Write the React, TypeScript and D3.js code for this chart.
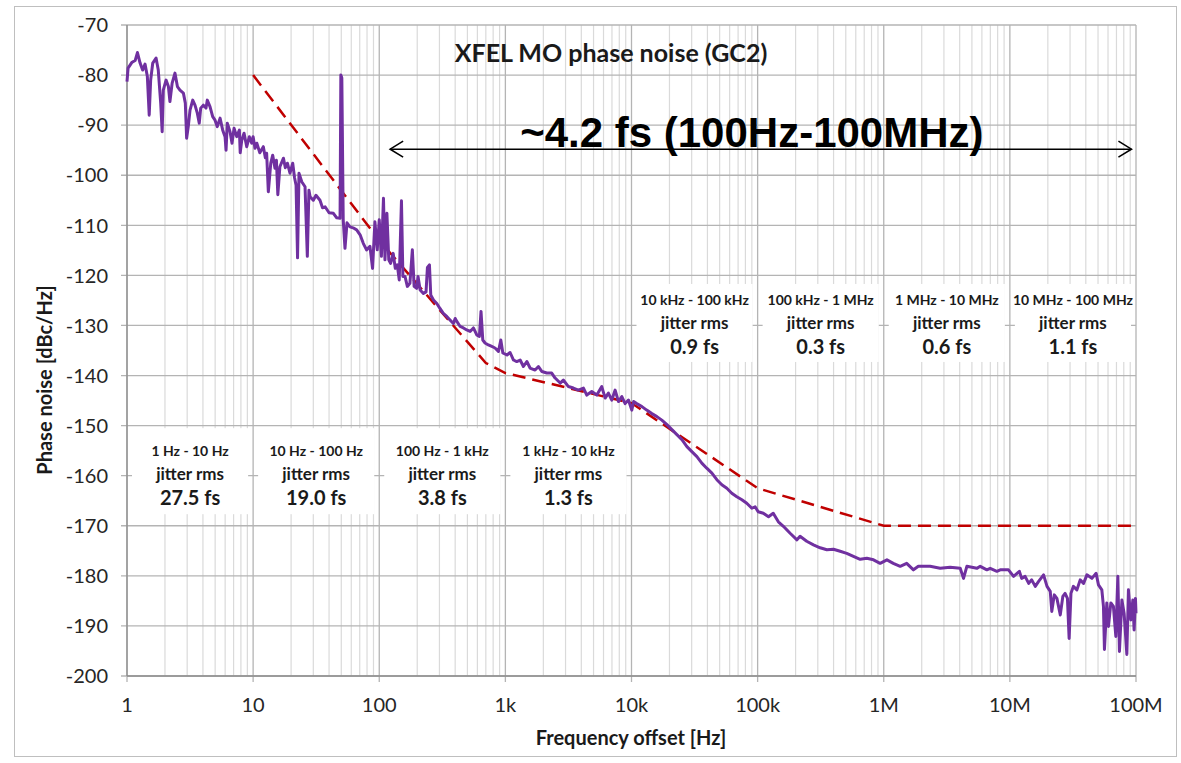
import React from "react";
import * as d3 from "d3";

// ---------- data ----------
const xTickValues = [1, 10, 100, 1e3, 1e4, 1e5, 1e6, 1e7, 1e8];
const xTickLabels = ["1", "10", "100", "1k", "10k", "100k", "1M", "10M", "100M"];
const yTickValues = [-70, -80, -90, -100, -110, -120, -130, -140, -150, -160, -170, -180, -190, -200];

// red dashed reference mask [Hz, dBc/Hz]
const maskFreq = [10, 100, 700, 1e3, 1e4, 1e5, 1e6, 1e8];
const maskLevel = [-80, -113, -137.5, -139.5, -145.5, -162.5, -170, -170];

// measured trace, decade by decade [Hz, dBc/Hz]
const traceDecade1: [number, number][] = [
  [1.0, -81.3], [1.02, -78.6], [1.09, -77.5], [1.16, -77.1], [1.21, -75.5], [1.27, -77.6], [1.33, -79.0],
  [1.39, -77.8], [1.45, -80.3], [1.5, -88.0], [1.54, -81.0], [1.6, -77.6], [1.7, -76.6], [1.77, -79.0],
  [1.85, -85.6], [1.9, -91.3], [1.94, -83.0], [2.04, -81.0], [2.13, -82.3], [2.19, -85.3], [2.28, -81.6],
  [2.4, -79.6], [2.51, -82.3], [2.63, -83.0], [2.8, -83.6], [2.9, -85.6], [2.97, -92.6], [3.06, -90.3],
  [3.16, -87.0], [3.32, -85.0], [3.46, -86.0], [3.61, -87.6], [3.74, -89.6], [3.84, -86.6], [4.03, -86.0],
  [4.23, -86.6], [4.33, -85.0], [4.55, -86.3], [4.78, -88.3], [4.99, -89.0], [5.2, -90.3], [5.47, -88.6],
  [5.74, -91.0], [5.99, -92.3], [6.1, -95.0], [6.24, -89.6], [6.56, -91.3], [6.8, -93.6], [7.06, -90.6],
  [7.41, -92.3], [7.78, -91.0], [7.9, -95.5], [8.13, -93.0], [8.47, -91.6], [8.9, -94.3], [9.33, -92.3],
  [9.75, -93.6],
];
const traceDecade2: [number, number][] = [
  [10.0, -92.3], [10.35, -94.6], [10.7, -93.6], [11.3, -95.5], [12.05, -94.3], [12.5, -96.5], [12.8, -95.6],
  [13.2, -103.3], [13.8, -97.6], [14.3, -96.0], [14.9, -98.6], [15.3, -97.0], [15.7, -103.9], [16.3, -98.3],
  [17.4, -96.6], [18.0, -98.5], [18.7, -97.6], [19.6, -99.6], [20.6, -97.6], [21.3, -100.5], [21.9, -102.0],
  [22.5, -116.5], [23.1, -99.6], [24.3, -101.3], [25.8, -102.3], [26.9, -116.2], [27.7, -103.0], [28.3, -104.3],
  [30.0, -105.0], [31.5, -104.0], [33.9, -105.0], [35.5, -106.5], [37.2, -106.3], [40.0, -107.5], [43.3, -107.6],
  [46.0, -108.5], [48.9, -108.6], [49.6, -80.0], [50.5, -80.6], [51.8, -108.9], [53.5, -114.6], [55.5, -109.5],
  [58.6, -110.3], [62.0, -110.5], [66.2, -110.9], [70.5, -111.9], [74.7, -113.6], [79.3, -114.9], [84.4, -114.2],
  [88.5, -118.6], [92.4, -109.3], [96.4, -114.9],
];
const traceDecade3: [number, number][] = [
  [100, -108.9], [104, -116.2], [108, -104.6], [111, -116.9], [115, -107.6], [119, -116.9], [123, -117.6],
  [129, -115.6], [134, -118.6], [139, -117.9], [144, -120.9], [150, -105.1], [154, -120.2], [160, -120.2],
  [167, -122.2], [175, -121.6], [183, -114.9], [189, -122.2], [198, -122.6], [203, -120.2], [211, -122.9],
  [224, -123.6], [235, -123.3], [241, -118.4], [250, -117.9], [256, -123.9], [269, -124.9], [286, -125.6],
  [303, -126.6], [322, -127.6], [343, -128.2], [364, -128.9], [387, -129.6], [400, -128.6], [412, -129.2],
  [438, -130.2], [465, -130.5], [494, -130.9], [525, -131.2], [558, -130.5], [593, -131.9], [622, -132.2],
  [641, -127.2], [662, -132.9], [690, -133.5], [733, -133.9], [780, -134.2], [828, -134.5], [881, -135.2],
  [920, -132.9], [955, -135.5],
];
const traceDecade4: [number, number][] = [
  [1030, -135.9], [1090, -135.4], [1160, -136.9], [1230, -137.2], [1310, -136.9], [1390, -138.2], [1480, -137.2],
  [1570, -138.5], [1720, -138.9], [1830, -138.2], [1950, -139.2], [2130, -139.5], [2330, -139.5], [2480, -140.5],
  [2720, -141.5], [2880, -140.9], [3160, -142.2], [3460, -142.5], [3790, -142.9], [4160, -142.5], [4420, -143.9],
  [4840, -143.2], [5310, -143.9], [5810, -142.2], [6180, -144.5], [6560, -143.5], [6980, -144.9], [7420, -142.9],
  [7880, -145.2], [8380, -144.2], [8900, -145.6], [9460, -144.9], [10050, -146.9],
];
const traceDecade5: [number, number][] = [
  [10400, -145.2], [11000, -145.6], [12100, -146.2], [13200, -146.9], [14500, -147.6], [15900, -148.2],
  [17400, -148.9], [19100, -149.8], [20900, -150.8], [22900, -151.8], [25100, -152.8], [27500, -154.2],
  [30100, -155.2], [33000, -156.2], [36100, -157.5], [39500, -158.5], [43400, -159.5], [47500, -160.8],
  [52000, -161.8], [57000, -162.5], [62400, -163.5], [68400, -164.2], [75000, -164.8], [82000, -165.5],
  [90000, -166.5], [95500, -166.2],
];
const traceDecade6: [number, number][] = [
  [101000, -167.2], [111000, -167.5], [122000, -168.2], [133000, -167.5], [146000, -169.2], [160000, -170.1],
  [181000, -171.5], [205000, -172.8], [217000, -172.1], [245000, -173.1], [277000, -173.8], [313000, -174.4],
  [354000, -174.8], [399000, -174.7], [451000, -175.1], [509000, -175.5], [575000, -176.1], [650000, -176.7],
  [734000, -176.5], [829000, -176.8], [936000, -177.5],
];
const traceDecade7: [number, number][] = [
  [1.06e6, -176.8], [1.19e6, -177.5], [1.35e6, -178.1], [1.52e6, -177.5], [1.72e6, -178.8], [1.88e6, -178.1],
  [2.33e6, -178.1], [2.8e6, -178.5], [3.36e6, -178.3], [4.04e6, -178.5], [4.29e6, -180.5], [4.56e6, -178.1],
  [5.47e6, -178.5], [5.82e6, -178.1], [6.57e6, -178.8], [6.98e6, -178.5], [7.89e6, -179.1], [8.38e6, -178.8],
  [9.75e6, -178.8],
];
const traceDecade8: [number, number][] = [
  [1.07e7, -180.1], [1.14e7, -179.5], [1.19e7, -179.1], [1.24e7, -180.5], [1.32e7, -180.1], [1.41e7, -181.5],
  [1.49e7, -180.8], [1.59e7, -182.1], [1.69e7, -181.1], [1.85e7, -179.8], [1.97e7, -182.1], [2.09e7, -183.1],
  [2.15e7, -187.1], [2.25e7, -183.8], [2.36e7, -184.5], [2.51e7, -187.8], [2.63e7, -184.1], [2.74e7, -183.5],
  [2.86e7, -184.5], [2.95e7, -192.5], [3.05e7, -183.5], [3.19e7, -182.1], [3.4e7, -182.8], [3.61e7, -180.8],
  [3.84e7, -181.5], [4.08e7, -179.8], [4.47e7, -180.5], [4.83e7, -179.5], [5.04e7, -181.8], [5.36e7, -182.8],
  [5.52e7, -186.1], [5.62e7, -194.7], [5.87e7, -185.4], [6.05e7, -190.1], [6.32e7, -185.4], [6.62e7, -186.1],
  [6.92e7, -192.1], [7.18e7, -180.1], [7.39e7, -195.1], [7.73e7, -184.8], [8.05e7, -187.5], [8.46e7, -195.7],
  [8.71e7, -182.8], [9.1e7, -188.8], [9.44e7, -184.8], [9.66e7, -190.8], [9.9e7, -184.5], [1e8, -187.5],
];

// integrated jitter per decade
const bandStart = [1, 10, 100, 1e3, 1e4, 1e5, 1e6, 1e7];
const bandRange = ["1 Hz - 10 Hz", "10 Hz - 100 Hz", "100 Hz - 1 kHz", "1 kHz - 10 kHz",
  "10 kHz - 100 kHz", "100 kHz - 1 MHz", "1 MHz - 10 MHz", "10 MHz - 100 MHz"];
const bandJitter = ["27.5 fs", "19.0 fs", "3.8 fs", "1.3 fs", "0.9 fs", "0.3 fs", "0.6 fs", "1.1 fs"];
const bandLevel = [-159.7, -159.7, -159.7, -159.7, -129.5, -129.5, -129.5, -129.5];

const chartTitle = "XFEL MO phase noise (GC2)";
const totalLabel = "~4.2 fs (100Hz-100MHz)";
const totalArrowFreq = [122, 9.2e7];
const totalArrowLevel = -94.8;
const totalLabelFreq = 9e4;
const xTitle = "Frequency offset [Hz]";
const yTitle = "Phase noise [dBc/Hz]";

const FONT = "Lato, 'Open Sans', sans-serif";

export default function App() {
  const W = 1181, H = 763;
  const x = d3.scaleLog().domain([1, 1e8]).range([127, 1136]);
  const y = d3.scaleLinear().domain([-200, -70]).range([676, 25]);

  const trace = [...traceDecade1, ...traceDecade2, ...traceDecade3, ...traceDecade4,
    ...traceDecade5, ...traceDecade6, ...traceDecade7, ...traceDecade8];
  const line = d3.line<[number, number]>().x((d) => x(d[0])).y((d) => y(d[1]));
  const mask: [number, number][] = maskFreq.map((f, i) => [f, maskLevel[i]]);

  const minor: number[] = [];
  for (let d = 1; d < 1e8; d *= 10) for (let k = 2; k <= 9; k++) minor.push(d * k);

  const [x0, x1] = x.range();
  const [yb, yt] = y.range();

  const ay = y(totalArrowLevel);
  const ax0 = x(totalArrowFreq[0]);
  const ax1 = x(totalArrowFreq[1]);

  return (
    <svg width={W} height={H} style={{ position: "absolute", left: 0, top: 0, background: "#fff" }}
      fontFamily={FONT}>
      <rect x={14.5} y={6.5} width={1162} height={750} fill="#fff" stroke="#bfbfbf" />
      {/* minor vertical grid */}
      {minor.map((m) => (
        <line key={"m" + m} x1={x(m)} x2={x(m)} y1={yt} y2={yb} stroke="#dadada" strokeWidth={1.2} />
      ))}
      {/* major vertical grid */}
      {xTickValues.map((t) => (
        <line key={"M" + t} x1={x(t)} x2={x(t)} y1={yt} y2={yb + 6} stroke="#b4b4b4" strokeWidth={1.3} />
      ))}
      {/* horizontal grid */}
      {yTickValues.map((t) => (
        <line key={"h" + t} x1={x0 - 6} x2={x1} y1={y(t)} y2={y(t)} stroke="#b4b4b4" strokeWidth={1.3} />
      ))}
      <line x1={x0} x2={x0} y1={yt} y2={yb} stroke="#8c8c8c" strokeWidth={1.3} />
      <line x1={x0} x2={x1} y1={yb} y2={yb} stroke="#8c8c8c" strokeWidth={1.3} />

      {/* tick labels */}
      {yTickValues.map((t) => (
        <text key={"yl" + t} x={108} y={y(t)} dy="0.36em" textAnchor="end" fontSize={20} fill="#262626">
          {t}
        </text>
      ))}
      {xTickValues.map((t, i) => (
        <text key={"xl" + t} x={x(t)} y={712} textAnchor="middle" fontSize={20} fill="#262626">
          {xTickLabels[i]}
        </text>
      ))}

      {/* jitter boxes */}
      {bandStart.map((b, i) => {
        const cx = (x(b) + x(b * 10)) / 2;
        const cy = y(bandLevel[i]);
        const top = i < 4;
        return (
          <g key={"b" + b}>
            <rect x={x(b) + 5} y={cy - (top ? 46 : 39)} width={x(b * 10) - x(b) - 10} height={top ? 86 : 78} fill="#fff" />
            <text x={cx} y={cy - 23} dy="0.35em" textAnchor="middle" fontSize={14} fontWeight="bold" fill="#1a1a1a">
              {bandRange[i]}
            </text>
            <text x={cx} y={cy} dy="0.35em" textAnchor="middle" fontSize={17} fontWeight="bold" fill="#1a1a1a">
              jitter rms
            </text>
            <text x={cx} y={cy + 24} dy="0.35em" textAnchor="middle" fontSize={20} fontWeight="bold" fill="#1a1a1a">
              {bandJitter[i]}
            </text>
          </g>
        );
      })}

      {/* mask and trace */}
      <path d={line(mask) || ""} fill="none" stroke="#c00000" strokeWidth={2.5} strokeDasharray="13,7" />
      <path d={line(trace) || ""} fill="none" stroke="#7030a0" strokeWidth={3} strokeLinejoin="round" />

      {/* total jitter arrow */}
      <line x1={ax0} x2={ax1} y1={ay} y2={ay} stroke="#000" strokeWidth={1.6} />
      <polyline points={`${ax0 + 13},${ay - 8} ${ax0},${ay} ${ax0 + 13},${ay + 8}`} fill="none" stroke="#000" strokeWidth={1.6} />
      <polyline points={`${ax1 - 13},${ay - 8} ${ax1},${ay} ${ax1 - 13},${ay + 8}`} fill="none" stroke="#000" strokeWidth={1.6} />
      <text x={x(totalLabelFreq)} y={ay - 2} textAnchor="middle" fontFamily="'Liberation Sans', Arial, sans-serif" fontWeight="bold" fontSize={42} fill="#000">
        {totalLabel}
      </text>

      {/* titles */}
      <text x={611} y={62} textAnchor="middle" fontSize={25} fontWeight="bold" fill="#1a1a1a">{chartTitle}</text>
      <text x={631} y={745} textAnchor="middle" fontSize={20} fontWeight="bold" fill="#1a1a1a">{xTitle}</text>
      <text transform="translate(52,380) rotate(-90)" textAnchor="middle" fontSize={20} fontWeight="bold" fill="#1a1a1a">{yTitle}</text>
    </svg>
  );
}
